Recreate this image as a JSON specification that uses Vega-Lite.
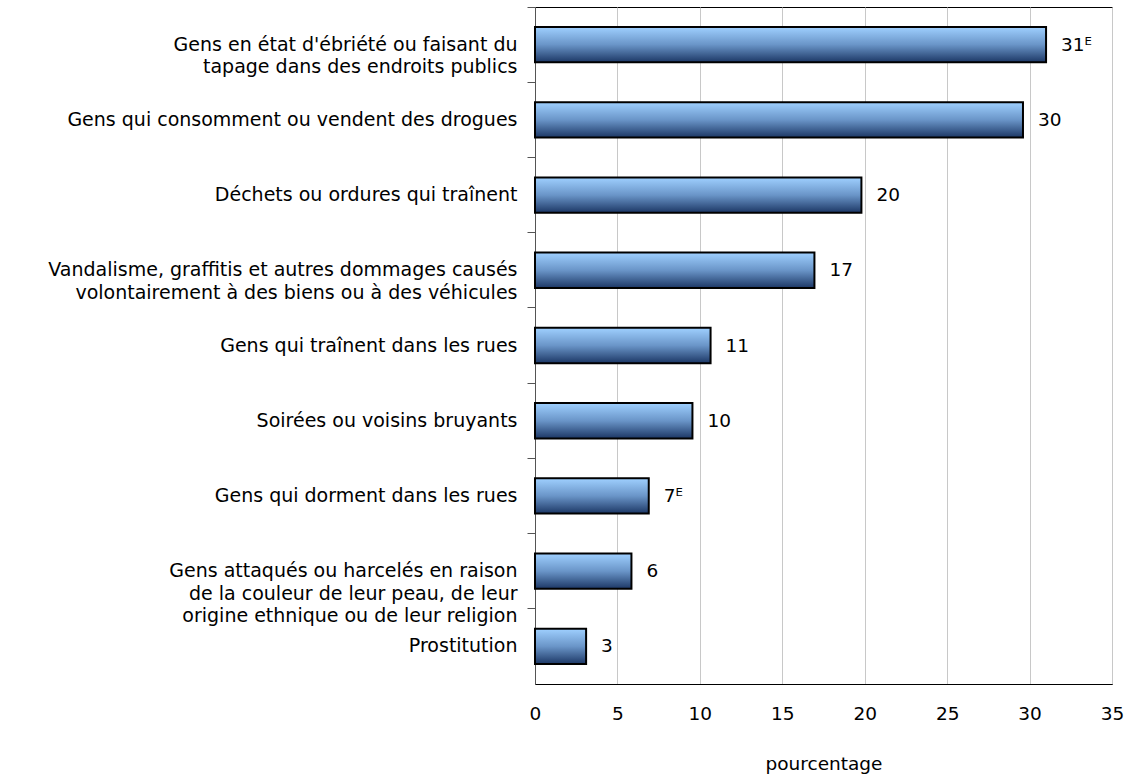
{
  "$schema": "https://vega.github.io/schema/vega-lite/v6.json",
  "width": 577,
  "height": 677,
  "autosize": {"type": "none"},
  "padding": {"left": 535, "top": 7, "right": 15, "bottom": 91},
  "background": "white",
  "config": {
    "font": "DejaVu Sans",
    "view": {"stroke": "black", "strokeWidth": 1}
  },
  "data": {
    "values": [
      {"cat": "Gens en état d'ébriété ou faisant du|tapage dans des endroits publics", "value": 31, "lab": "31ᴱ"},
      {"cat": "Gens qui consomment ou vendent des drogues", "value": 29.6, "lab": "30"},
      {"cat": "Déchets ou ordures qui traînent", "value": 19.8, "lab": "20"},
      {"cat": "Vandalisme, graffitis et autres dommages causés|volontairement à des biens ou à des véhicules", "value": 16.95, "lab": "17"},
      {"cat": "Gens qui traînent dans les rues", "value": 10.65, "lab": "11"},
      {"cat": "Soirées ou voisins bruyants", "value": 9.55, "lab": "10"},
      {"cat": "Gens qui dorment dans les rues", "value": 6.9, "lab": "7ᴱ"},
      {"cat": "Gens attaqués ou harcelés en raison|de la couleur de leur peau, de leur|origine ethnique ou de leur religion", "value": 5.85, "lab": "6"},
      {"cat": "Prostitution", "value": 3.1, "lab": "3"}
    ]
  },
  "encoding": {
    "y": {
      "field": "cat",
      "type": "nominal",
      "sort": null,
      "scale": {"paddingInner": 0, "paddingOuter": 0},
      "axis": {
        "title": null,
        "bandPosition": 0,
        "labelExpr": "split(datum.label, '|')",
        "labelFontSize": 19,
        "labelColor": "black",
        "labelLineHeight": 22.5,
        "labelPadding": 10,
        "labelLimit": 600,
        "tickSize": 8,
        "tickColor": "#555",
        "domainColor": "#555",
        "labelBaseline": "middle"
      }
    },
    "x": {
      "field": "value",
      "type": "quantitative",
      "scale": {"domain": [0, 35], "nice": false},
      "axis": {
        "title": "pourcentage",
        "values": [0, 5, 10, 15, 20, 25, 30, 35],
        "tickSize": 0,
        "labelFlush": false,
        "labelFontSize": 18.5,
        "labelColor": "black",
        "labelPadding": 20,
        "titleFontSize": 18.5,
        "titleFontWeight": "normal",
        "titleColor": "black",
        "titlePadding": 32,
        "domainColor": "black",
        "gridColor": "#C8C8C8",
        "gridWidth": 1
      }
    }
  },
  "layer": [
    {
      "mark": {
        "type": "bar",
        "height": {"band": 0.47},
        "stroke": "black",
        "strokeWidth": 2,
        "fill": {
          "gradient": "linear",
          "x1": 0, "y1": 0, "x2": 0, "y2": 1,
          "stops": [
            {"offset": 0, "color": "#9FD0FF"},
            {"offset": 0.5, "color": "#6A95C8"},
            {"offset": 1, "color": "#1C3765"}
          ]
        }
      }
    },
    {
      "mark": {"type": "text", "align": "left", "baseline": "middle", "dx": 15, "fontSize": 18.5, "color": "black"},
      "encoding": {"text": {"field": "lab"}}
    }
  ]
}
